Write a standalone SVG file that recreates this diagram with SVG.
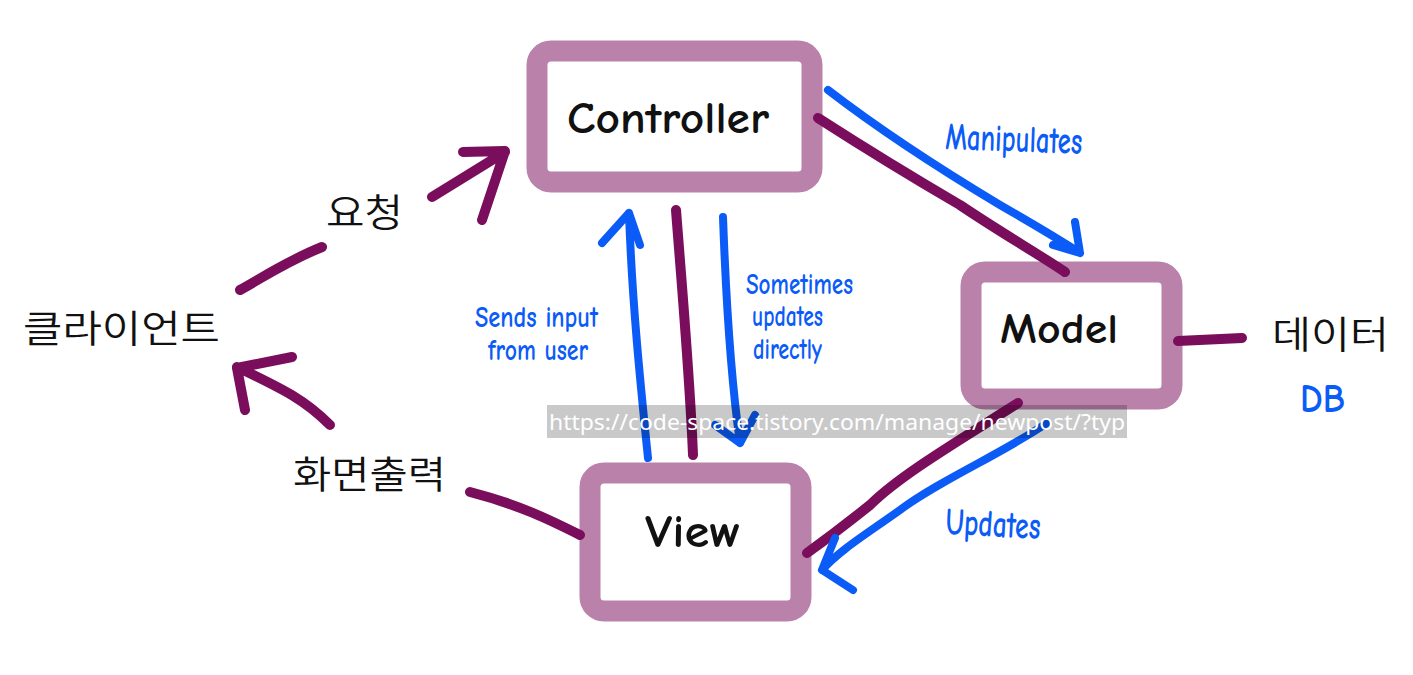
<svg xmlns="http://www.w3.org/2000/svg" width="1413" height="675" viewBox="0 0 1413 675">
<style>
.box{fill:#fff;stroke:#ba82ab;stroke-width:21;stroke-linejoin:round}
.pl{fill:none;stroke:#7a0e5c;stroke-width:10;stroke-linecap:round;stroke-linejoin:round}
.bl{fill:none;stroke:#0b5cf7;stroke-width:8;stroke-linecap:round;stroke-linejoin:round}
.nt{font-family:"Comic Neue","Open Sans","Liberation Sans",sans-serif;font-weight:700;fill:#111;text-anchor:middle}
.kr{font-family:"Noto Sans CJK KR","Noto Sans",sans-serif;font-weight:350;fill:#111;font-size:38px}
.hw{font-family:"Comic Neue","Liberation Sans","Noto Sans",sans-serif;font-weight:700;fill:#0b5cf7;font-size:30px}
</style>
<rect width="1413" height="675" fill="#fff"/>
<g id="controller">
<rect class="box" x="537" y="51" width="275" height="131" rx="14"/>
<text class="nt" x="668" y="133" font-size="44" textLength="202" lengthAdjust="spacingAndGlyphs">Controller</text>
</g>
<g id="model">
<rect class="box" x="971" y="272" width="201" height="127" rx="14"/>
<text class="nt" x="1059" y="343" font-size="42" textLength="118" lengthAdjust="spacingAndGlyphs">Model</text>
</g>
<g id="view">
<rect class="box" x="590" y="473" width="211" height="138" rx="14"/>
<text class="nt" x="693" y="547" font-size="46" textLength="96" lengthAdjust="spacingAndGlyphs">View</text>
</g>
<g id="client"><text class="kr" x="23" y="342" textLength="197" lengthAdjust="spacingAndGlyphs">클라이언트</text></g>
<g id="request"><text class="kr" x="326" y="226" textLength="77" lengthAdjust="spacingAndGlyphs">요청</text></g>
<g id="render"><text class="kr" x="293" y="488" textLength="153" lengthAdjust="spacingAndGlyphs">화면출력</text></g>
<g id="data">
<text class="kr" x="1272" y="348" textLength="117" lengthAdjust="spacingAndGlyphs">데이터</text>
<text class="hw" x="1300" y="412" style="font-size:40px" textLength="45" lengthAdjust="spacingAndGlyphs">DB</text>
</g>
<g id="connectors">
<path class="pl" d="M240,290 C262,278 285,262 322,247"/>
<path class="pl" d="M432,197 L505,152 M463,152 L505,151 L482,220"/>
<path class="pl" d="M330,425 C305,400 285,390 237,367 M292,357 L237,368 L245,410"/>
<path class="pl" d="M470,492 C520,505 550,520 580,535"/>
<path class="pl" d="M676,210 C683,300 690,380 693,455"/>
<path class="bl" d="M648,458 C640,380 632,300 629,213 M602,243 L629,213 L640,245"/>
<path class="bl" d="M723,217 C726,300 731,380 740,443 M715,425 L740,443 L755,415"/>
<path class="pl" d="M818,118 C860,145 900,170 960,205 C1000,232 1040,255 1065,272"/>
<path class="bl" d="M828,90 C880,130 950,175 1000,205 C1040,228 1060,240 1080,253 M1075,222 L1080,253 L1053,245"/>
<path class="pl" d="M1018,403 C960,440 900,475 870,505 C845,525 825,540 807,553"/>
<path class="bl" d="M1047,423 C1000,455 940,480 900,510 C865,535 840,550 822,570 M835,538 L822,570 L853,590"/>
<path class="pl" d="M1178,341 L1242,338"/>
</g>
<g id="labels">
<text class="hw" x="945" y="149" style="font-size:38px" textLength="137" lengthAdjust="spacingAndGlyphs" transform="rotate(2 945 149)">Manipulates</text>
<text class="hw" x="475" y="327" textLength="123" lengthAdjust="spacingAndGlyphs">Sends input</text>
<text class="hw" x="488" y="360" textLength="100" lengthAdjust="spacingAndGlyphs">from user</text>
<text class="hw" x="746" y="294" textLength="107" lengthAdjust="spacingAndGlyphs">Sometimes</text>
<text class="hw" x="752" y="326" textLength="71" lengthAdjust="spacingAndGlyphs">updates</text>
<text class="hw" x="753" y="359" textLength="69" lengthAdjust="spacingAndGlyphs">directly</text>
<text class="hw" x="945" y="534" style="font-size:38px" textLength="95" lengthAdjust="spacingAndGlyphs" transform="rotate(3 945 534)">Updates</text>
</g>
<g id="watermark">
<rect x="547" y="405" width="580" height="33" fill="#000" fill-opacity="0.21"/>
<text x="549" y="430" font-family="Noto Sans,Open Sans,sans-serif" font-size="22" fill="#fff" textLength="576" lengthAdjust="spacingAndGlyphs">https://code-space.tistory.com/manage/newpost/?typ</text>
</g>
</svg>
